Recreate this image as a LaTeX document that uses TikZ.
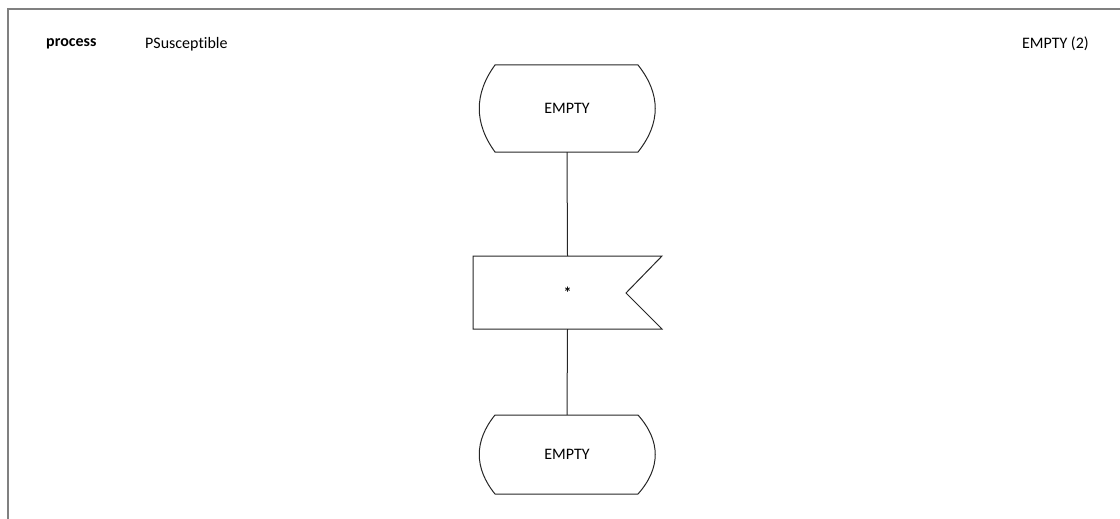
\documentclass[tikz,border=0pt]{standalone}
\usepackage{fontspec}
\setmainfont{Carlito}[Ligatures=NoCommon]
\begin{document}
\begin{tikzpicture}[x=1pt,y=-1pt,
  lbl/.style={font=\fontsize{16}{19}\selectfont, inner sep=0pt},
  statebox/.style={lbl, minimum width=176pt, minimum height=87pt},
  inputbox/.style={lbl, minimum width=189pt, minimum height=73pt},
  outline/.style={draw=black!85, line width=1pt},
  frame/.style={draw=black!50, line width=2pt},
  link/.style={draw=black!85, line width=1pt}]
\useasboundingbox (0,0) rectangle (1120,519);

% page frame (open at the bottom and right)
\draw[frame] (8,519) -- (8,9) -- (1120,9);

% header
\node[lbl, font=\fontsize{16}{19}\selectfont\bfseries, anchor=west] (kw) at (46,44) {process};
\node[lbl, anchor=west] (pname) at (145,44) {PSusceptible};
\node[lbl, anchor=east] (page) at (1089,44) {EMPTY (2)};

% start state
\node[statebox] (s1) at (567,108.5) {EMPTY};
\draw[outline] (495,65) -- (638,65)
  .. controls (661,94) and (661,123) .. (638,152) -- (495,152)
  .. controls (474,123) and (474,94) .. cycle;

% input symbol
\node[inputbox] (in1) at (567.5,292.5) {\textbf{*}};
\draw[outline] (473,256) -- (662,256) -- (626,293) -- (662,329) -- (473,329) -- cycle;

% next state
\node[statebox, minimum height=79pt] (s2) at (567,454.5) {EMPTY};
\draw[outline] (495,415) -- (638,415)
  .. controls (661,441) and (661,468) .. (638,494) -- (495,494)
  .. controls (474,468) and (474,441) .. cycle;

% flow lines
\draw[link] (s1.south) -- (in1.north);
\draw[link] (in1.south) -- (s2.north);
\end{tikzpicture}
\end{document}
